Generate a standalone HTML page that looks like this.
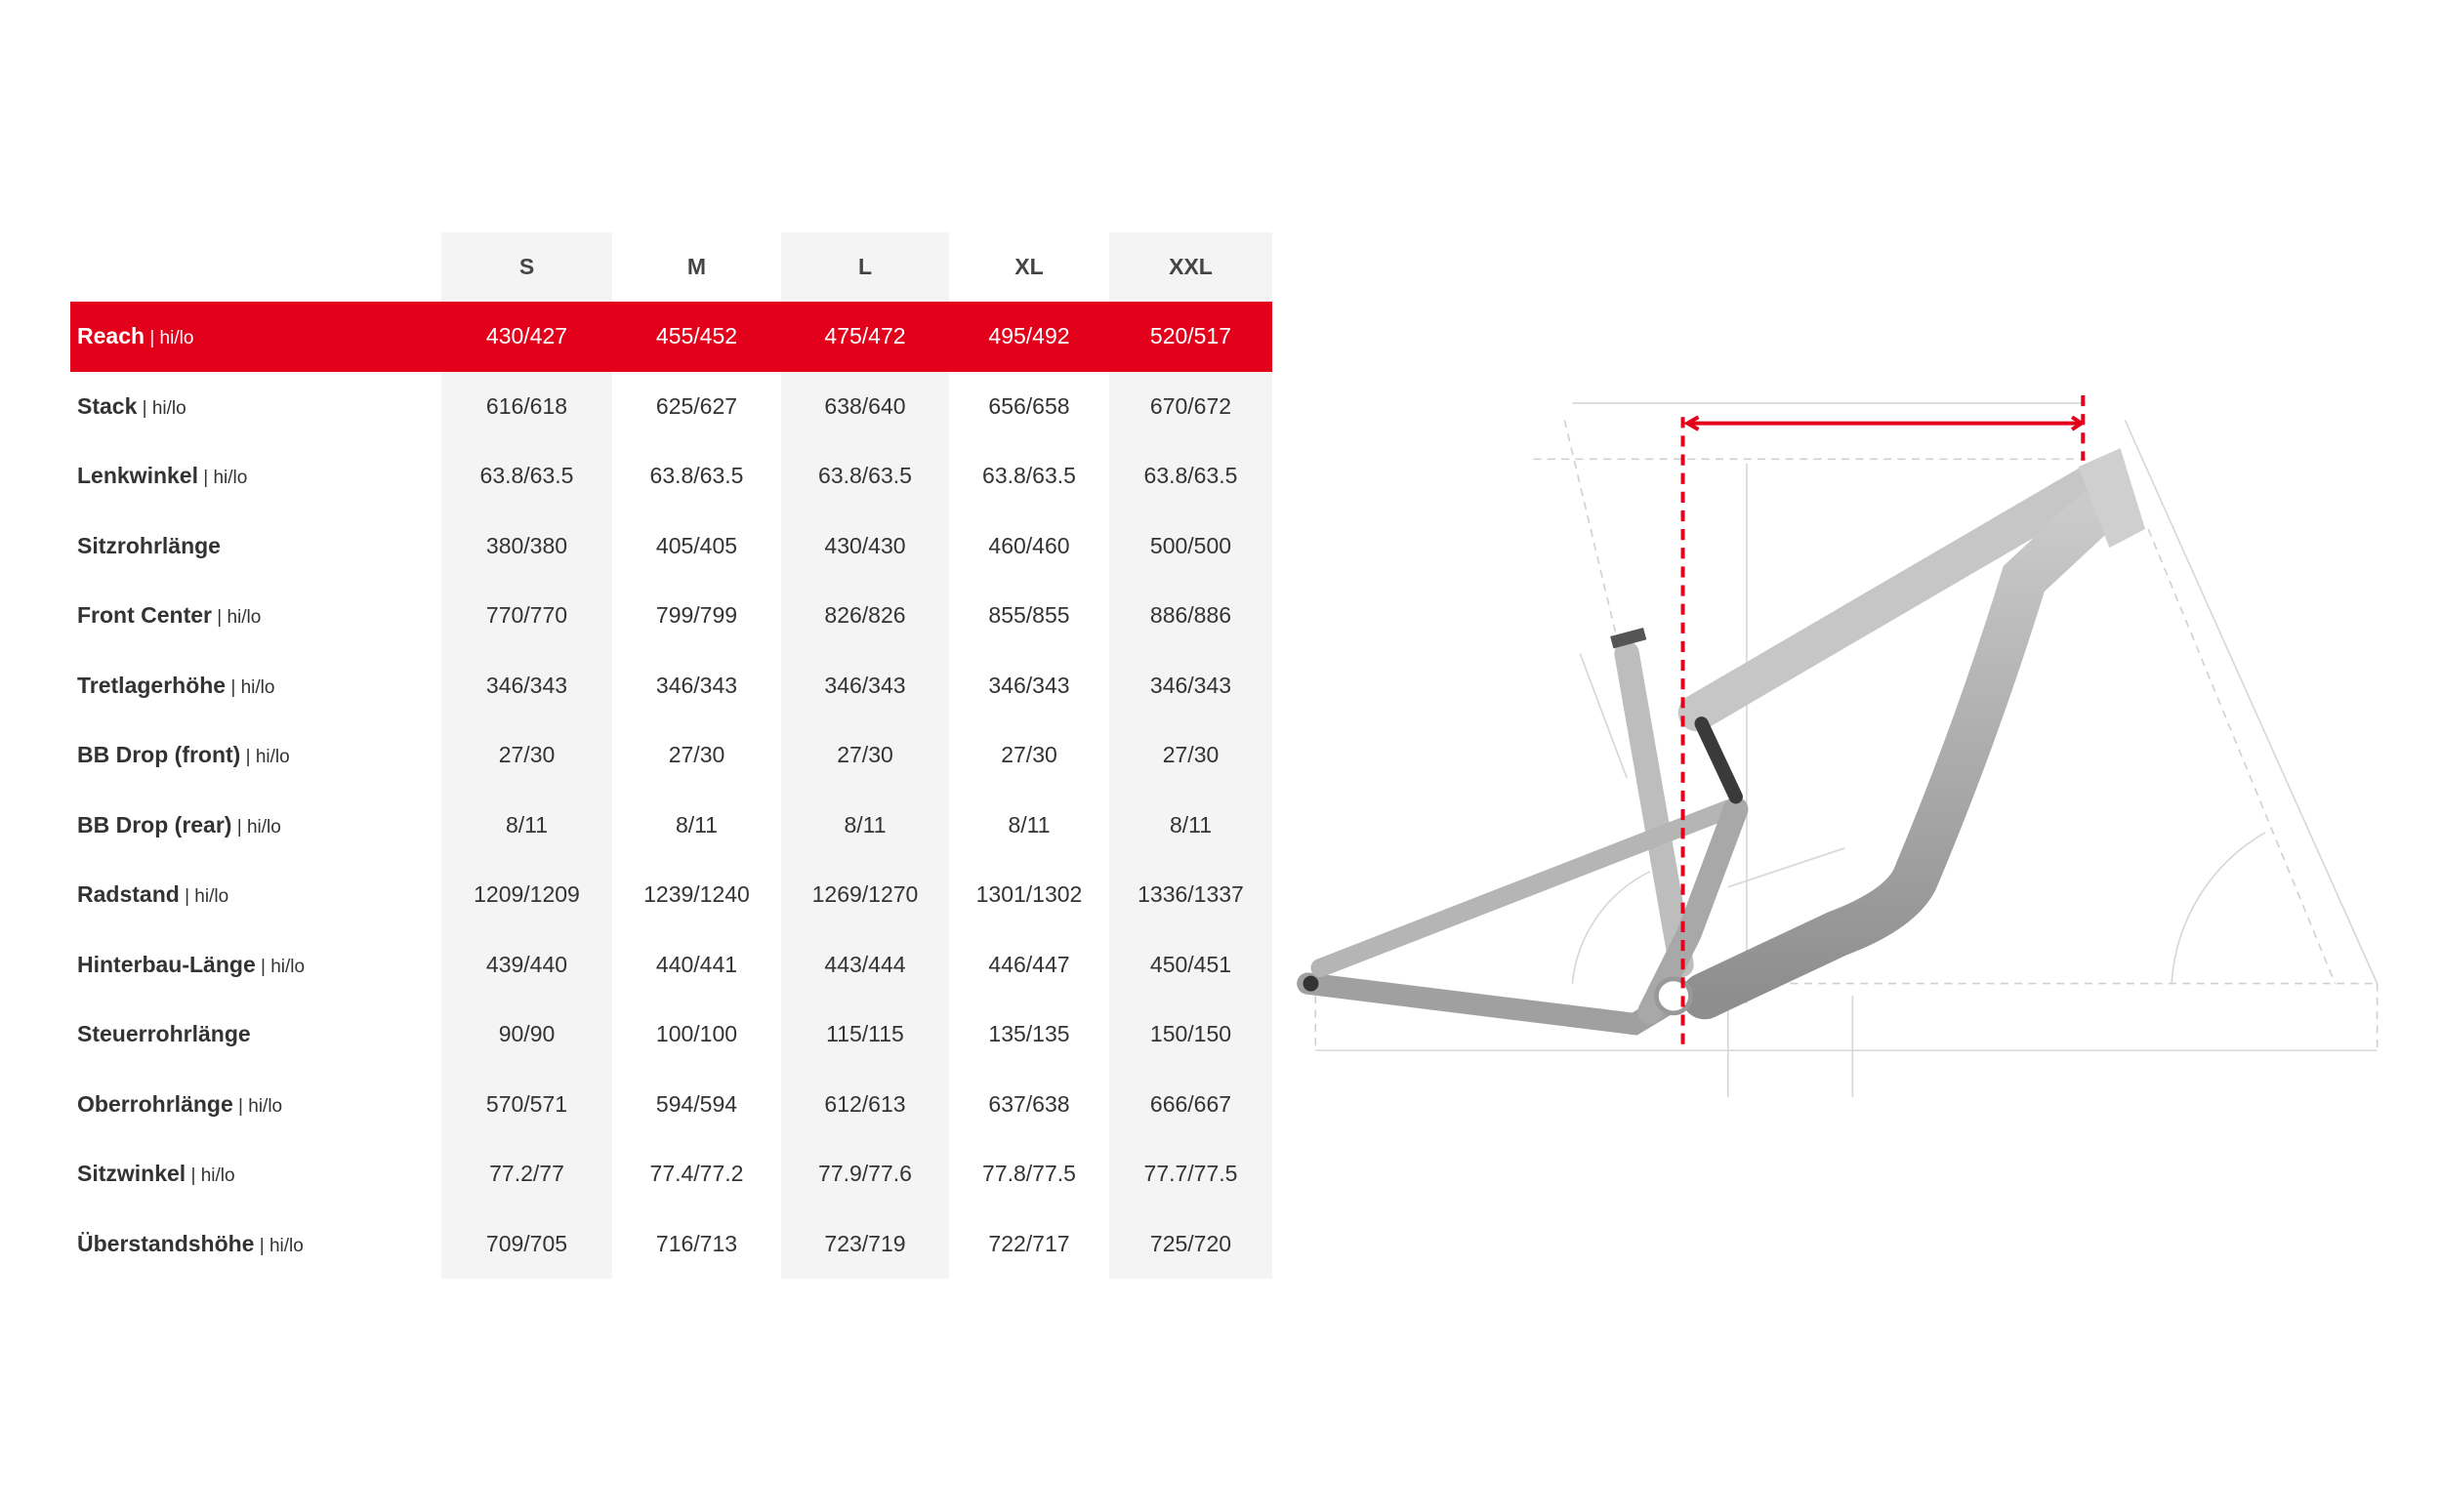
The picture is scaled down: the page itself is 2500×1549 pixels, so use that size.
<!DOCTYPE html>
<html><head><meta charset="utf-8"><style>
html,body{margin:0;padding:0;background:#fff;}
body{width:2500px;height:1549px;position:relative;overflow:hidden;font-family:"Liberation Sans",sans-serif;color:#333;}
.col{position:absolute;top:238px;height:1072px;background:#f4f4f4;}
.hdr{position:absolute;top:238px;height:71px;line-height:71px;text-align:center;font-weight:bold;font-size:23px;color:#444;}
.row{position:absolute;left:72px;width:1231px;height:71.5px;line-height:71.5px;font-size:23px;}
.row .l{position:absolute;left:7px;font-weight:bold;color:#333;}
.row .l span{font-weight:normal;font-size:19px;}
.row .v{position:absolute;text-align:center;}
.red{background:#e2001a;color:#fff;}
.red .l{color:#fff;}
</style></head><body>
<div class="col" style="left:452px;width:175px"></div>
<div class="col" style="left:800px;width:172px"></div>
<div class="col" style="left:1136px;width:167px"></div>
<div class="hdr" style="left:452px;width:175px">S</div>
<div class="hdr" style="left:627px;width:173px">M</div>
<div class="hdr" style="left:800px;width:172px">L</div>
<div class="hdr" style="left:972px;width:164px">XL</div>
<div class="hdr" style="left:1136px;width:167px">XXL</div>

<div id="rows"></div>
<script>
var d=[["Reach"," | hi/lo","430/427","455/452","475/472","495/492","520/517"],
["Stack"," | hi/lo","616/618","625/627","638/640","656/658","670/672"],
["Lenkwinkel"," | hi/lo","63.8/63.5","63.8/63.5","63.8/63.5","63.8/63.5","63.8/63.5"],
["Sitzrohrlänge","","380/380","405/405","430/430","460/460","500/500"],
["Front Center"," | hi/lo","770/770","799/799","826/826","855/855","886/886"],
["Tretlagerhöhe"," | hi/lo","346/343","346/343","346/343","346/343","346/343"],
["BB Drop (front)"," | hi/lo","27/30","27/30","27/30","27/30","27/30"],
["BB Drop (rear)"," | hi/lo","8/11","8/11","8/11","8/11","8/11"],
["Radstand"," | hi/lo","1209/1209","1239/1240","1269/1270","1301/1302","1336/1337"],
["Hinterbau-Länge"," | hi/lo","439/440","440/441","443/444","446/447","450/451"],
["Steuerrohrlänge","","90/90","100/100","115/115","135/135","150/150"],
["Oberrohrlänge"," | hi/lo","570/571","594/594","612/613","637/638","666/667"],
["Sitzwinkel"," | hi/lo","77.2/77","77.4/77.2","77.9/77.6","77.8/77.5","77.7/77.5"],
["Überstandshöhe"," | hi/lo","709/705","716/713","723/719","722/717","725/720"]];
var cols=[[380,175],[555,173],[728,172],[900,164],[1064,167]];
var h="";
d.forEach(function(r,i){
 h+='<div class="row'+(i==0?' red':'')+'" style="top:'+(309+i*71.5)+'px"><div class="l">'+r[0]+'<span>'+r[1]+'</span></div>';
 for(var j=0;j<5;j++)h+='<div class="v" style="left:'+cols[j][0]+'px;width:'+cols[j][1]+'px">'+r[j+2]+'</div>';
 h+='</div>';
});
document.getElementById("rows").innerHTML=h;
</script>

<svg style="position:absolute;left:0;top:0" width="2500" height="1549" viewBox="0 0 1568 971.6" preserveAspectRatio="none">
<defs><linearGradient id="g" x1="0" y1="0" x2="0" y2="1"><stop offset="0" stop-color="#cacaca"/><stop offset="1" stop-color="#8e8e8e"/></linearGradient></defs>
<g stroke="#d6d6d6" stroke-width="1" fill="none">
<line x1="1010" y1="259" x2="1340" y2="259"/>
<line x1="845" y1="675" x2="1527" y2="675"/>
<line x1="1365" y1="270" x2="1527" y2="632"/>
<line x1="1122" y1="298" x2="1122" y2="645"/>
<line x1="1110" y1="640" x2="1110" y2="705"/>
<line x1="1190" y1="640" x2="1190" y2="705"/>
<line x1="1015" y1="420" x2="1045" y2="500"/>
<path d="M1395 632 A120 120 0 0 1 1455 535"/>
<path d="M1010 632 A90 90 0 0 1 1060 560"/>
<line x1="1110" y1="570" x2="1185" y2="545"/>
</g>
<g stroke="#d0d0d0" stroke-width="1" stroke-dasharray="5,4" fill="none">
<line x1="985" y1="295" x2="1340" y2="295"/>
<line x1="1060" y1="632" x2="1527" y2="632"/>
<line x1="1380" y1="340" x2="1500" y2="632"/>
<line x1="1005" y1="270" x2="1065" y2="520"/>
<line x1="1527" y1="632" x2="1527" y2="675"/>
<line x1="845" y1="640" x2="845" y2="675"/>
</g>
<g stroke-linecap="round" fill="none" stroke="url(#g)">
<line x1="1090" y1="458" x2="1340" y2="312" stroke-width="24" stroke="#c6c6c6"/>
<path d="M1345 330 L1300 372 Q1270 470 1230 565 Q1220 585 1180 600 L1095 640" stroke-width="30"/>
<line x1="1045" y1="420" x2="1080" y2="620" stroke-width="16" stroke="#bdbdbd"/>
<path d="M840 632 L1050 658 L1080 640" stroke-width="14" stroke="#a0a0a0"/>
<line x1="848" y1="622" x2="1110" y2="520" stroke-width="12" stroke="#b5b5b5"/>
<path d="M1115 520 L1085 600 L1060 650" stroke-width="16" stroke="#a8a8a8"/>
</g>
<polygon points="1335,300 1362,288 1378,340 1355,352" fill="#cfcfcf"/>
<line x1="1093" y1="465" x2="1115" y2="512" stroke="#3a3a3a" stroke-width="9" stroke-linecap="round"/>
<circle cx="1075" cy="640" r="11" fill="#fff" stroke="#999" stroke-width="3"/>
<circle cx="842" cy="632" r="5" fill="#333"/>
<rect x="1035" y="406" width="22" height="8" fill="#555" transform="rotate(-15 1046 410)"/>
<g stroke="#e2001a" stroke-width="2.5" fill="none">
<line x1="1081" y1="268" x2="1081" y2="676" stroke-dasharray="7,5"/>
<line x1="1338" y1="254" x2="1338" y2="296" stroke-dasharray="7,5"/>
<line x1="1085" y1="272" x2="1335" y2="272"/>
<path d="M1091 268 L1084 272 L1091 276 M1331 268 L1337 272 L1331 276"/>
</g>
</svg>
</body></html>
